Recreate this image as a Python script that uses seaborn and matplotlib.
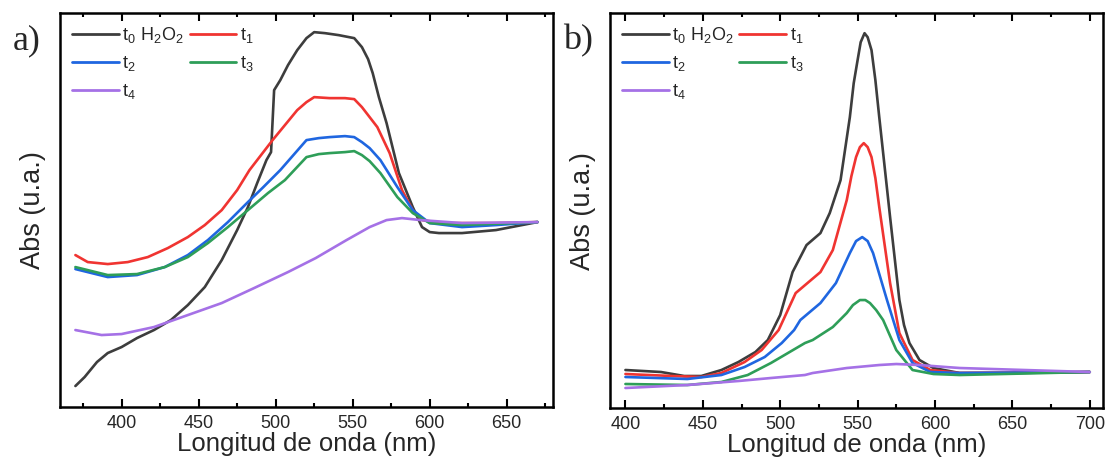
import pandas as pd
import seaborn as sns
import matplotlib.pyplot as plt
from matplotlib.ticker import MultipleLocator
from matplotlib.lines import Line2D

# ---- panel a) ----
a_t0_x = [370, 376, 384, 391, 400, 410, 421, 432, 443, 454, 465, 475, 482, 488, 494, 497, 499, 503, 508, 514,
          520, 525, 532, 541, 551, 556, 560, 563, 567, 572, 580, 589, 595, 600, 606, 621, 643, 670]
a_t0_y = [0.21, 0.30, 0.45, 0.54, 0.60, 0.69, 0.77, 0.87, 1.02, 1.20, 1.47, 1.77, 2.00, 2.24, 2.47, 2.55, 3.17,
          3.27, 3.42, 3.57, 3.69, 3.75, 3.74, 3.72, 3.69, 3.60, 3.48, 3.34, 3.10, 2.84, 2.34, 2.00, 1.80, 1.75,
          1.74, 1.74, 1.77, 1.85]
a_t1_x = [370, 378, 391, 404, 417, 430, 443, 454, 465, 475, 483, 498, 514, 520, 525, 535, 545, 551, 556, 560,
          566, 574, 582, 589, 595, 608, 643, 670]
a_t1_y = [1.52, 1.45, 1.43, 1.45, 1.50, 1.59, 1.70, 1.82, 1.97, 2.17, 2.37, 2.67, 2.97, 3.05, 3.10, 3.09, 3.09,
          3.08, 3.00, 2.92, 2.80, 2.54, 2.17, 1.97, 1.87, 1.84, 1.84, 1.85]
a_t2_x = [370, 391, 410, 428, 443, 456, 469, 482, 492, 503, 520, 528, 535, 545, 551, 556, 561, 568, 579, 589,
          600, 621, 643, 670]
a_t2_y = [1.38, 1.30, 1.32, 1.40, 1.52, 1.67, 1.85, 2.05, 2.20, 2.37, 2.67, 2.69, 2.70, 2.71, 2.70, 2.65, 2.59,
          2.47, 2.20, 1.97, 1.84, 1.80, 1.82, 1.85]
a_t3_x = [370, 391, 410, 428, 443, 456, 469, 482, 495, 506, 520, 528, 535, 545, 551, 556, 561, 568, 579, 589,
          600, 621, 670]
a_t3_y = [1.40, 1.32, 1.33, 1.40, 1.50, 1.64, 1.80, 1.97, 2.14, 2.27, 2.50, 2.53, 2.54, 2.55, 2.56, 2.52, 2.46,
          2.34, 2.10, 1.94, 1.84, 1.82, 1.85]
a_t4_x = [370, 387, 400, 421, 443, 465, 486, 508, 526, 546, 561, 572, 582, 594, 621, 670]
a_t4_y = [0.77, 0.72, 0.73, 0.80, 0.92, 1.04, 1.19, 1.35, 1.49, 1.67, 1.80, 1.87, 1.89, 1.87, 1.84, 1.85]

# ---- panel b) ----
b_t0_x = [400, 423, 438, 449, 462, 473, 484, 492, 500, 508, 517, 526, 532, 539, 545, 547.5, 550, 552, 554.5,
          556.5, 559, 561.5, 564, 571, 577, 580, 583.5, 590, 599, 616, 650, 700]
b_t0_y = [0.38, 0.36, 0.32, 0.32, 0.38, 0.46, 0.56, 0.68, 0.93, 1.36, 1.63, 1.75, 1.95, 2.28, 2.91, 3.25, 3.48,
          3.66, 3.75, 3.71, 3.58, 3.28, 2.91, 1.91, 1.08, 0.83, 0.65, 0.48, 0.40, 0.35, 0.35, 0.36]
b_t1_x = [400, 430, 449, 462, 477, 488, 499, 510, 526, 534, 543, 546, 549, 551.5, 554, 556.5, 559, 561.5, 564,
          571, 577, 585.5, 597, 616, 700]
b_t1_y = [0.34, 0.32, 0.31, 0.35, 0.46, 0.58, 0.78, 1.15, 1.36, 1.58, 2.08, 2.32, 2.51, 2.61, 2.65, 2.61, 2.51,
          2.30, 2.01, 1.25, 0.75, 0.48, 0.38, 0.35, 0.36]
b_t2_x = [400, 440, 462, 477, 490, 501, 509, 513, 526, 536, 545, 549, 553, 556.5, 560, 569, 577, 585.5, 597,
          616, 700]
b_t2_y = [0.31, 0.29, 0.33, 0.41, 0.51, 0.65, 0.78, 0.88, 1.05, 1.25, 1.55, 1.67, 1.71, 1.67, 1.55, 1.08, 0.68,
          0.45, 0.36, 0.35, 0.36]
b_t3_x = [400, 440, 462, 479, 494, 505, 516, 521, 534, 543, 547, 551.5, 555, 558, 562, 566.5, 575, 585.5, 599,
          616, 700]
b_t3_y = [0.24, 0.23, 0.26, 0.33, 0.45, 0.55, 0.65, 0.68, 0.81, 0.95, 1.03, 1.08, 1.08, 1.05, 0.98, 0.88, 0.58,
          0.38, 0.34, 0.33, 0.36]
b_t4_x = [400, 440, 473, 494, 516, 521, 543, 564, 575, 590, 607, 616, 700]
b_t4_y = [0.20, 0.23, 0.27, 0.30, 0.33, 0.35, 0.40, 0.43, 0.44, 0.43, 0.41, 0.40, 0.36]

series = ['t0', 't1', 't2', 't3', 't4']
labels = [r'$\mathregular{t_0\ H_2O_2}$', r'$\mathregular{t_1}$', r'$\mathregular{t_2}$',
          r'$\mathregular{t_3}$', r'$\mathregular{t_4}$']
colors = {'t0': '#3d3d3d', 't1': '#f03431', 't2': '#1f66e0', 't3': '#2e9e58', 't4': '#a571e6'}


def build(xs, ys):
    frames = [pd.DataFrame({'nm': x, 'abs': y, 'serie': s}) for s, x, y in zip(series, xs, ys)]
    return pd.concat(frames, ignore_index=True)


df_a = build([a_t0_x, a_t1_x, a_t2_x, a_t3_x, a_t4_x], [a_t0_y, a_t1_y, a_t2_y, a_t3_y, a_t4_y])
df_b = build([b_t0_x, b_t1_x, b_t2_x, b_t3_x, b_t4_x], [b_t0_y, b_t1_y, b_t2_y, b_t3_y, b_t4_y])

sns.set_theme(style="white")
plt.rcParams['font.family'] = ['Liberation Sans', 'DejaVu Sans']
plt.rcParams['mathtext.fontset'] = 'custom'
plt.rcParams['mathtext.rm'] = 'Liberation Sans'

fig = plt.figure(figsize=(11.09, 4.65), dpi=100)
ax1 = fig.add_axes([0.0541, 0.1247, 0.4445, 0.847])
ax2 = fig.add_axes([0.5500, 0.1226, 0.4445, 0.849])

panels = [(ax1, df_a, (360, 680), (0, 3.94), [400, 450, 500, 550, 600, 650], 'a)'),
          (ax2, df_b, (390, 708.5), (0, 3.95), [400, 450, 500, 550, 600, 650, 700], 'b)')]

for ax, df, xlim, ylim, xt, tag in panels:
    sns.lineplot(data=df, x='nm', y='abs', hue='serie', hue_order=series, palette=colors,
                 linewidth=1.9, legend=False, ax=ax, estimator=None)
    for ln in ax.get_lines():
        ln.set_solid_joinstyle('round')
    ax.set_xlim(*xlim)
    ax.set_ylim(*ylim)
    ax.set_xticks(xt)
    ax.xaxis.set_minor_locator(MultipleLocator(25))
    ax.set_yticks([])
    ax.tick_params(axis='x', which='both', direction='in', top=True, bottom=True, labelsize=13,
                   color='black', width=1.5, pad=6)
    ax.tick_params(axis='x', which='major', length=6)
    ax.tick_params(axis='x', which='minor', length=3)
    for sp in ax.spines.values():
        sp.set_color('black')
        sp.set_linewidth(1.8)
    ax.set_xlabel('Longitud de onda (nm)', fontsize=18.5, labelpad=0)
    ax.set_ylabel('Abs (u.a.)', fontsize=19.5, labelpad=10)

    handles = [Line2D([], [], color=colors[s], linewidth=2.0) for s in series]
    order = [0, 2, 4, 1, 3]
    ax.legend([handles[i] for i in order], [labels[i] for i in order], ncol=2, loc='upper left',
              frameon=False, fontsize=13, handlelength=2.6, handletextpad=0.2, columnspacing=0.3,
              labelspacing=0.5, borderaxespad=0.35, borderpad=0.3)

    ax.text(-0.095, 0.93, tag, transform=ax.transAxes, fontsize=26,
            family=['Liberation Serif', 'DejaVu Serif'], ha='left', va='center')

plt.savefig('out.png', dpi=100)
